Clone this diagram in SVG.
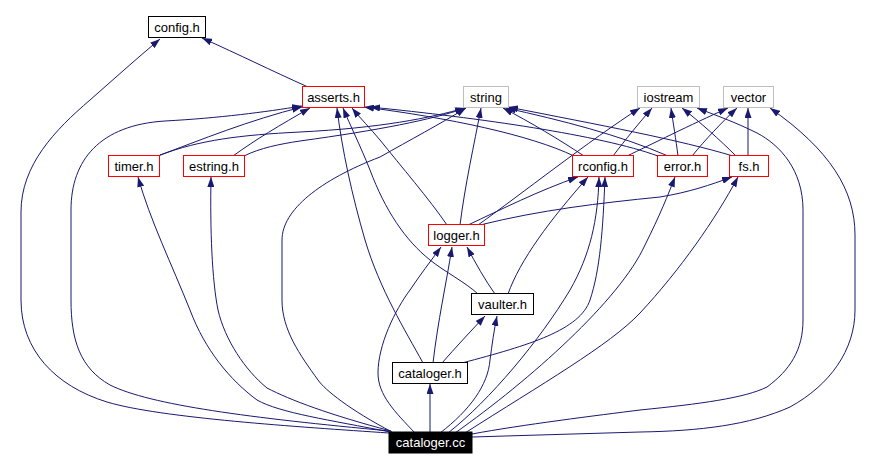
<svg xmlns="http://www.w3.org/2000/svg" width="873" height="471" viewBox="0 0 873 471">
<style>
.n rect{fill:#fff;stroke-width:1}
.blk rect{stroke:#000}
.red rect{stroke:#ff0000}
.gry rect{stroke:#bfbfbf}
.n text{font-family:"Liberation Sans",Arial,sans-serif;font-size:13px;text-anchor:middle;fill:#000}
#edges path{fill:none;stroke:#191970;stroke-width:1;marker-end:url(#a)}
</style>
<defs>
<marker id="a" viewBox="0 0 10 7" refX="10" refY="3.5" markerWidth="10" markerHeight="7" orient="auto" markerUnits="userSpaceOnUse"><path d="M0,0L10,3.5L0,7z" fill="#191970"/></marker>
</defs>
<rect width="873" height="471" fill="#fff"/>
<g id="edges">
<path d="M389,433 C300,427 160,418 107,402 C55,386 21,350 21,300 L21,212 C21,165 55,130 90,100 C115,78 135,60 160,39"/>
<path d="M390,431 C250,418 150,405 110,385 C80,368 71,340 71,300 L71,210 C71,160 100,125 165,121 C220,118 265,112 302,106"/>
<path d="M390,432 C330,420 280,413 257,400 C230,380 205,350 190,310 C172,265 150,220 138,177"/>
<path d="M391,431 C330,415 290,400 267,388 C245,370 225,340 218,310 C212,280 210,230 211,177"/>
<path d="M392,432 C350,410 325,390 318,380 C300,355 282,330 282,300 L282,240 C282,210 320,180 380,157 C410,140 440,124 466,108"/>
<path d="M415,433 C395,412 378,395 378,373 C378,345 395,310 410,290 C420,275 430,262 441,247"/>
<path d="M430,433 L430,384"/>
<path d="M440,433 C470,410 488,385 490,360 C492,345 494,330 497,316"/>
<path d="M448,433 C490,400 540,340 570,290 C590,255 598,220 599,177"/>
<path d="M455,433 C530,380 620,300 645,245 C660,215 668,195 675,177"/>
<path d="M465,433 C540,385 610,345 640,313 C680,270 715,220 738,177"/>
<path d="M472,434 C520,425 600,415 640,410 C700,404 745,398 767,387 C790,370 803,350 803,320 L803,210 C803,170 780,145 757,133 C735,122 715,115 697,108"/>
<path d="M472,437 L640,432 C700,431 750,425 790,407 C830,385 855,350 855,310 L855,235 C855,190 830,150 770,108"/>
<path d="M308,87 C270,70 240,55 202,38"/>
<path d="M158,156 C200,140 250,120 302,107"/>
<path d="M160,155 C200,140 240,135 300,132 C380,128 430,118 465,108"/>
<path d="M233,156 C255,140 280,125 310,108"/>
<path d="M244,156 C260,148 280,144 300,141 C380,130 430,120 466,108"/>
<path d="M447,225 C430,200 400,165 380,140 C370,128 360,118 352,108"/>
<path d="M460,225 C465,185 474,145 481,108"/>
<path d="M468,225 C500,210 540,190 578,177"/>
<path d="M478,225 C520,195 590,140 640,108"/>
<path d="M480,225 C540,210 600,203 660,197 C690,192 710,185 732,177"/>
<path d="M574,156 C530,135 450,118 364,107"/>
<path d="M584,156 C560,140 530,122 503,108"/>
<path d="M613,156 C625,140 640,122 652,108"/>
<path d="M627,156 C650,145 690,125 728,108"/>
<path d="M658,156 C600,135 480,118 370,107"/>
<path d="M668,156 C620,135 560,120 506,108"/>
<path d="M678,156 C676,140 673,122 671,108"/>
<path d="M692,156 C705,140 722,122 737,108"/>
<path d="M733,156 C680,140 600,125 508,107"/>
<path d="M736,156 C720,140 700,122 682,108"/>
<path d="M748,156 L748,108"/>
<path d="M478,294 C465,282 445,272 430,260 C405,240 385,210 370,170 C360,145 350,125 343,108"/>
<path d="M495,294 C485,280 476,264 467,247"/>
<path d="M508,294 C520,260 550,220 588,177"/>
<path d="M423,363 C405,330 380,290 365,240 C352,195 342,150 337,108"/>
<path d="M433,363 C438,320 446,285 452,247"/>
<path d="M442,363 C455,348 470,332 485,316"/>
<path d="M462,363 C530,345 580,330 590,300 C600,270 603,230 605,177"/>
</g>
<g id="config_h" class="n blk"><rect x="148.5" y="16.5" width="57" height="21"/><text x="177" y="31.5">config.h</text></g>
<g id="asserts_h" class="n red"><rect x="302.5" y="86.5" width="62" height="21"/><text x="333.5" y="101.5">asserts.h</text></g>
<g id="string" class="n gry"><rect x="463.5" y="86.5" width="45" height="21"/><text x="486" y="101.5">string</text></g>
<g id="iostream" class="n gry"><rect x="637.5" y="86.5" width="62" height="21"/><text x="668.5" y="101.5">iostream</text></g>
<g id="vector" class="n gry"><rect x="723.5" y="86.5" width="50" height="21"/><text x="748.5" y="101.5">vector</text></g>
<g id="timer_h" class="n red"><rect x="108.5" y="155.5" width="51" height="21"/><text x="134" y="170.5">timer.h</text></g>
<g id="estring_h" class="n red"><rect x="183.5" y="155.5" width="61" height="21"/><text x="214" y="170.5">estring.h</text></g>
<g id="rconfig_h" class="n red"><rect x="572.5" y="155.5" width="61" height="21"/><text x="603" y="170.5">rconfig.h</text></g>
<g id="error_h" class="n red"><rect x="657.5" y="155.5" width="50" height="21"/><text x="682.5" y="170.5">error.h</text></g>
<g id="fs_h" class="n red"><rect x="729.5" y="155.5" width="39" height="21"/><text x="749" y="170.5">fs.h</text></g>
<g id="logger_h" class="n red"><rect x="428.5" y="224.5" width="56" height="21"/><text x="456.5" y="239.5">logger.h</text></g>
<g id="vaulter_h" class="n blk"><rect x="471.5" y="293.5" width="62" height="21"/><text x="502.5" y="308.5">vaulter.h</text></g>
<g id="cataloger_h" class="n blk"><rect x="392.5" y="362.5" width="75" height="21"/><text x="430" y="377.5">cataloger.h</text></g>
<g id="cataloger_cc" class="n"><rect x="389" y="432" width="83" height="21" style="fill:#000;stroke:#000"/><text x="430.5" y="446.5" style="fill:#fff">cataloger.cc</text></g>
</svg>
